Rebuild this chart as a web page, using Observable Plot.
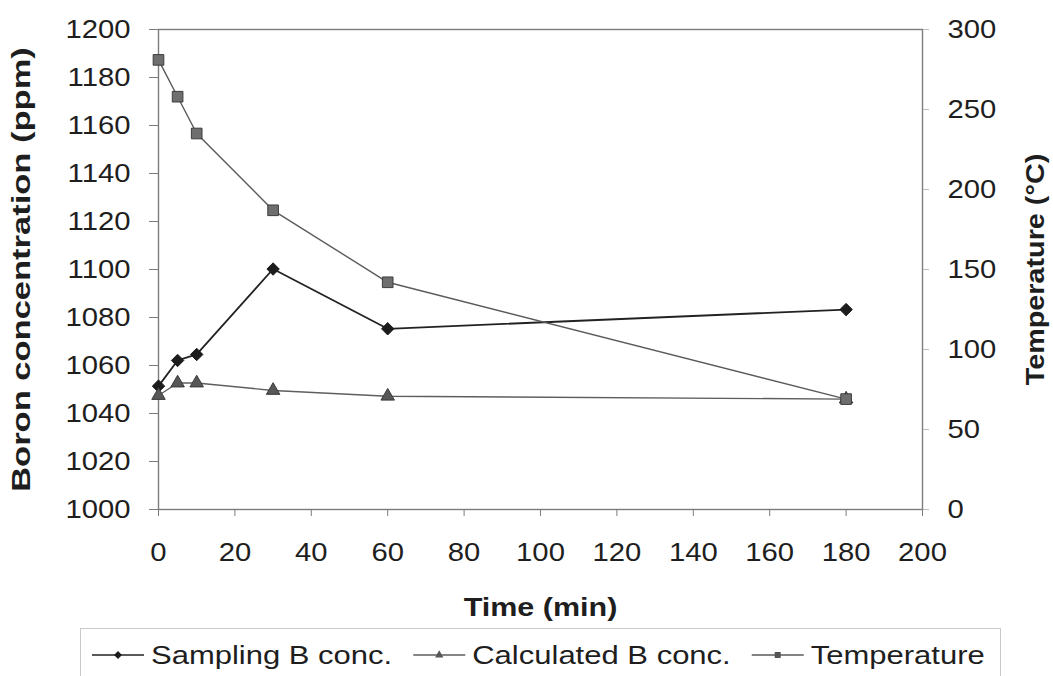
<!DOCTYPE html>
<html>
<head>
<meta charset="utf-8">
<script src="https://cdn.jsdelivr.net/npm/d3@7"></script>
<script src="https://cdn.jsdelivr.net/npm/@observablehq/plot@0.6"></script>
<style>
  body { margin: 0; background: #fff; font-family: "Liberation Sans", Arial, sans-serif; }
  #chart { width: 1053px; height: 676px; overflow: hidden; }
  #chart svg { display: block; }
</style>
</head>
<body>
<div id="chart"></div>
<script>
// Sampling times and measured / calculated boron and reactor temperature
const timeMin      = [0, 5, 10, 30, 60, 180];
const samplingB    = [1051.4, 1062.1, 1064.6, 1100.2, 1075.3, 1083.3];
const calculatedB  = [1047.5, 1052.7, 1052.7, 1049.6, 1047.2, 1046.0];
const temperatureC = [281, 258, 235, 187, 142, 69];

const seriesNames = ["Sampling B conc.", "Calculated B conc.", "Temperature"];
const boronTicks = d3.range(1000, 1201, 20);
const timeTicks  = d3.range(0, 201, 20);
const tempTicks  = d3.range(0, 301, 50);

// The temperature axis shares the frame: 0–300 °C spans 1000–1200 ppm
const tempToBoron = t => 1000 + t * 200 / 300;
const boronToTemp = b => Math.round((b - 1000) * 300 / 200);

const rows = timeMin.map((t, i) => ({
  t, sampling: samplingB[i], calculated: calculatedB[i], temp: temperatureC[i]
}));

const axisGray = "#7c7c7c";
const ink = "#1e1e1e";

const chart = Plot.plot({
  width: 1053,
  height: 625,
  marginLeft: 158,
  marginRight: 131,
  marginTop: 29,
  marginBottom: 116,
  style: { fontFamily: "'Liberation Sans', Arial, sans-serif", fontSize: "25px", color: ink, background: "#fff" },
  x: { domain: [0, 200] },
  y: { domain: [1000, 1200] },
  marks: [
    Plot.frame({ stroke: axisGray, strokeWidth: 1.4 }),
    Plot.axisY({
      anchor: "left", ticks: boronTicks, tickSize: 9, tickPadding: 19,
      stroke: axisGray, fill: ink, tickFormat: d => String(d),
      label: "Boron concentration (ppm)", labelAnchor: "center", labelOffset: 146, labelArrow: "none"
    }),
    Plot.axisY({
      anchor: "right", ticks: tempTicks.map(tempToBoron), tickSize: 6, tickPadding: 19,
      stroke: "#bdbdbd", fill: ink, tickFormat: boronToTemp,
      label: "Temperature (°C)", labelAnchor: "center", labelOffset: 121, labelArrow: "none"
    }),
    Plot.axisX({
      ticks: timeTicks, tickSize: 7, tickPadding: 27,
      stroke: axisGray, fill: ink, tickFormat: d => String(d),
      label: "Time (min)", labelAnchor: "center", labelOffset: 106, labelArrow: "none"
    }),
    // Sampling B conc.
    Plot.line(rows, { x: "t", y: "sampling", stroke: "#222", strokeWidth: 1.8 }),
    Plot.dot(rows, { x: "t", y: "sampling", symbol: "diamond2", r: 5.6, fill: "#1c1c1c", stroke: "#1c1c1c", strokeWidth: 1 }),
    // Calculated B conc.
    Plot.line(rows, { x: "t", y: "calculated", stroke: "#5e5e5e", strokeWidth: 1.4 }),
    Plot.dot(rows, { x: "t", y: "calculated", symbol: "triangle", r: 5, fill: "#575757", stroke: "#3a3a3a", strokeWidth: 1 }),
    // Temperature on the right-hand scale
    Plot.line(rows, { x: "t", y: d => tempToBoron(d.temp), stroke: "#5a5a5a", strokeWidth: 1.4 }),
    Plot.dot(rows, { x: "t", y: d => tempToBoron(d.temp), symbol: "square", r: 6, fill: "#6e6e6e", stroke: "#3c3c3c", strokeWidth: 1 })
  ]
});

const root = document.getElementById("chart");
root.appendChild(chart);

// Widen the glyphs slightly (the type is set wide) and embolden the axis titles
function stretch(el, factor) {
  const len = el.getComputedTextLength();
  el.setAttribute("textLength", (len * factor).toFixed(1));
  el.setAttribute("lengthAdjust", "spacingAndGlyphs");
}
const titleFactor = { "Boron concentration (ppm)": 1.38, "Temperature (°C)": 1.15, "Time (min)": 1.22 };
chart.querySelectorAll("text").forEach(el => {
  const label = el.parentNode.getAttribute("aria-label") || "";
  const txt = el.textContent;
  if (label.endsWith("axis label")) {
    el.setAttribute("font-weight", "bold");
    el.style.fontWeight = "bold";
    stretch(el, titleFactor[txt] || 1.2);
  } else if (label.endsWith("tick label")) {
    stretch(el, 1.17);
  }
});

// Legend under the plot
const legendSvg = d3.select(root).append("svg")
  .attr("width", 1053).attr("height", 51)
  .style("font-family", "'Liberation Sans', Arial, sans-serif")
  .style("font-size", "25px");

legendSvg.append("rect")
  .attr("x", 80.5).attr("y", 3.5).attr("width", 920).attr("height", 70)
  .attr("fill", "#fff").attr("stroke", "#c9c9c9");

const legendStyle = [
  { symbol: d3.symbolDiamond2, size: 40, fill: "#1c1c1c", line: "#222" },
  { symbol: d3.symbolTriangle, size: 30, fill: "#575757", line: "#5e5e5e" },
  { symbol: d3.symbolSquare,   size: 36, fill: "#555",    line: "#5a5a5a" }
];

let cx = 92;
const cy = 30;
seriesNames.forEach((name, i) => {
  const st = legendStyle[i];
  const g = legendSvg.append("g");
  g.append("line").attr("x1", cx).attr("x2", cx + 52).attr("y1", cy).attr("y2", cy)
    .attr("stroke", st.line).attr("stroke-width", 1.6);
  g.append("path").attr("d", d3.symbol(st.symbol, st.size)())
    .attr("transform", `translate(${cx + 26},${cy})`).attr("fill", st.fill);
  const t = g.append("text").attr("x", cx + 59).attr("y", cy).attr("dy", "0.36em")
    .attr("fill", ink).text(name);
  const node = t.node();
  const w = node.getComputedTextLength() * 1.24;
  node.setAttribute("textLength", w.toFixed(1));
  node.setAttribute("lengthAdjust", "spacingAndGlyphs");
  cx = cx + 59 + w + 21;
});
</script>
</body>
</html>
